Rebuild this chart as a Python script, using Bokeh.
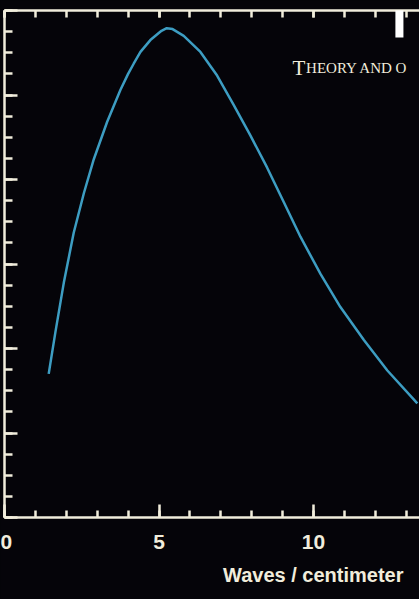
from bokeh.plotting import figure
from bokeh.models import (Range1d, LinearAxis, SingleIntervalTicker, Label, BoxAnnotation,
                          Title, CustomJSTickFormatter)
from bokeh.embed import file_html
from bokeh.resources import INLINE

# Data (wavenumber in waves/cm, intensity in arbitrary units)
wavenumber = [1.43, 1.65, 1.92, 2.24, 2.57, 2.89, 3.32, 3.75, 4.00, 4.18, 4.40, 4.72,
              5.08, 5.25, 5.44, 5.80, 6.34, 6.88, 7.42, 7.96, 8.50, 9.04, 9.58, 10.23,
              10.87, 11.63, 12.39, 13.36]
intensity = [170, 220, 278, 337, 384, 424, 468, 506, 525, 537, 551, 565,
             576, 579, 578, 570, 551, 523, 488, 452, 414, 373, 332, 288,
             249, 210, 174, 135]
x_tick_labels = {0: "0", 5: "5", 10: "10"}
x_title = "Waves / centimeter"
header_big = "T"
header_small = "HEORY AND O"

BG = "#050409"
FG = "#f1eddc"
CURVE = "#3d9dc2"

p = figure(width=419, height=599, x_range=Range1d(0, 13.43), y_range=Range1d(0, 600),
           output_backend="svg", toolbar_location=None,
           background_fill_color=BG, border_fill_color=BG,
           min_border_left=4, min_border_right=0, min_border_top=10, min_border_bottom=82)
p.grid.visible = False
p.outline_line_color = None

blank = CustomJSTickFormatter(code="return '';")

def style(ax, major_in, minor_in):
    ax.axis_line_color = FG
    ax.axis_line_width = 2.5
    ax.major_tick_line_color = FG
    ax.minor_tick_line_color = FG
    ax.major_tick_line_width = 2.5
    ax.minor_tick_line_width = 2.5
    ax.major_tick_in = major_in
    ax.major_tick_out = 0
    ax.minor_tick_in = minor_in
    ax.minor_tick_out = 0

xa = p.xaxis[0]
xa.ticker = SingleIntervalTicker(interval=5, num_minor_ticks=5)
style(xa, 13, 7)
xa.major_label_overrides = x_tick_labels
xa.major_label_text_color = FG
xa.major_label_text_font = "Liberation Sans"
xa.major_label_text_font_style = "bold"
xa.major_label_text_font_size = "21px"
xa.major_label_standoff = 17

ya = p.yaxis[0]
ya.ticker = SingleIntervalTicker(interval=100, num_minor_ticks=4)
style(ya, 13, 8)
ya.formatter = blank
ya.major_label_standoff = 0

top = LinearAxis(ticker=SingleIntervalTicker(interval=5, num_minor_ticks=5), formatter=blank)
style(top, 7, 7)
top.major_label_standoff = 0
p.add_layout(top, "above")

p.line(wavenumber, intensity, line_color=CURVE, line_width=2.5)

p.add_layout(Title(text=x_title, align="right", vertical_align="top", offset=16, standoff=24,
                   text_color=FG, text_font="Liberation Sans", text_font_style="bold",
                   text_font_size="20px"), "below")
p.add_layout(Label(x=9.32, y=532, text=header_big, text_align="left", text_baseline="alphabetic",
                   text_color=FG, text_font="Liberation Serif", text_font_size="21px"))
p.add_layout(Label(x=9.76, y=532, text=header_small, text_align="left", text_baseline="alphabetic",
                   text_color=FG, text_font="Liberation Serif", text_font_size="15px"))

# white corner mark at top right
p.add_layout(BoxAnnotation(left=12.65, right=12.91, bottom=568, top=612, fill_color="white",
                           fill_alpha=1, line_color=None))

html = file_html(p, INLINE)
html = html.replace("<head>", "<head><style>html,body{margin:0;padding:0;background:%s;overflow:hidden;}</style>" % BG, 1)
open("out.html", "w").write(html)
